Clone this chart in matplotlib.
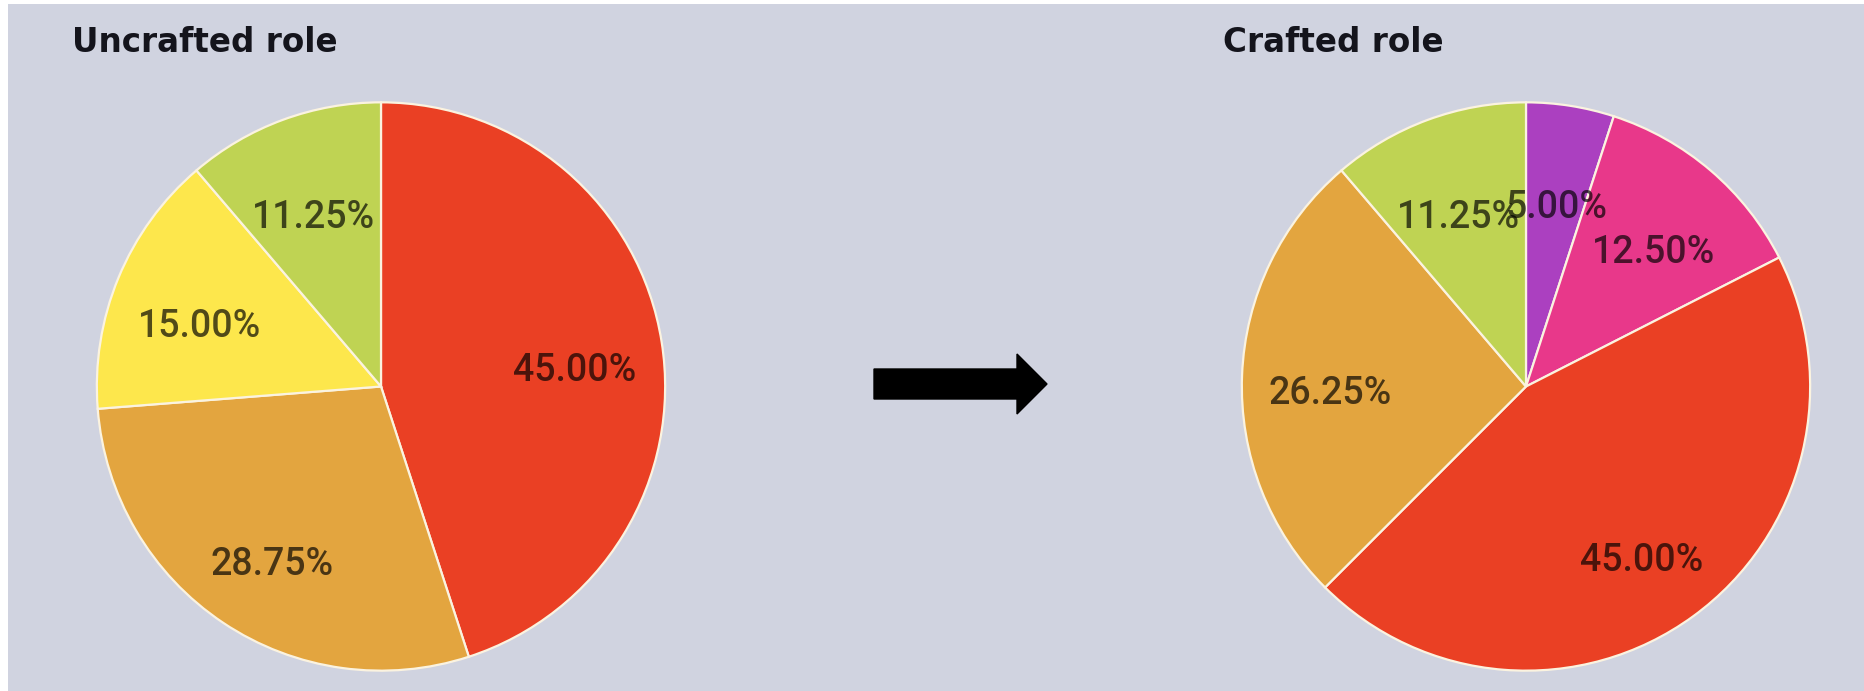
import matplotlib
matplotlib.use("Agg")
import matplotlib.pyplot as plt
from matplotlib.patches import Rectangle, FancyArrow
from matplotlib.transforms import offset_copy

W, H = 1864, 691

# data
uncrafted_values = [45.0, 28.75, 15.0, 11.25]
uncrafted_colors = ["#ea4024", "#e3a53f", "#fde74c", "#bfd353"]
crafted_values = [5.0, 12.5, 45.0, 26.25, 11.25]
crafted_colors = ["#ab40c0", "#e8388a", "#ea4024", "#e3a53f", "#bfd353"]
titles = ["Uncrafted role", "Crafted role"]

bg = "#d0d3e0"

fig = plt.figure(figsize=(W / 100, H / 100), dpi=100, facecolor="white")
fig.patches.append(Rectangle((8 / W, 0), 1, 1 - 4 / H, transform=fig.transFigure,
                             facecolor=bg, edgecolor="none", zorder=-10))


def draw_pie(cx, cy, r, values, colors):
    ax = fig.add_axes([(cx - r) / W, (H - cy - r) / H, 2 * r / W, 2 * r / H])
    ax.set_facecolor("none")
    wedges, texts, autotexts = ax.pie(
        values, colors=colors, startangle=90, counterclock=False,
        autopct="%.2f%%", pctdistance=0.69, radius=1,
        wedgeprops=dict(edgecolor="#fbf3e0", linewidth=1.6),
        textprops=dict(fontsize=27, family="Roboto", fontweight="medium",
                       color="black", alpha=0.68),
    )
    # labels sit a little lower than the wedge centroid in the original
    for t in autotexts:
        t.set_transform(offset_copy(t.get_transform(), fig=fig, y=-15, units="dots"))
    ax.set_xlim(-1.01, 1.01)
    ax.set_ylim(-1.01, 1.01)
    ax.axis("off")
    return ax


draw_pie(381, 386.5, 287, uncrafted_values, uncrafted_colors)
draw_pie(1526, 386.5, 287, crafted_values, crafted_colors)

fig.text(72 / W, 1 - 52 / H, titles[0], fontsize=23.5, fontweight="bold",
         family="DejaVu Sans", color="#14141c", va="baseline", ha="left")
fig.text(1223 / W, 1 - 52 / H, titles[1], fontsize=23.5, fontweight="bold",
         family="DejaVu Sans", color="#14141c", va="baseline", ha="left")

# arrow between the pies
ax_arrow = fig.add_axes([0, 0, 1, 1])
ax_arrow.set_xlim(0, W)
ax_arrow.set_ylim(H, 0)
ax_arrow.axis("off")
ax_arrow.add_patch(FancyArrow(874, 384, 173, 0, width=30, head_width=60,
                              head_length=30, length_includes_head=True,
                              color="black"))

fig.savefig("out.png", dpi=100, facecolor=fig.get_facecolor())
